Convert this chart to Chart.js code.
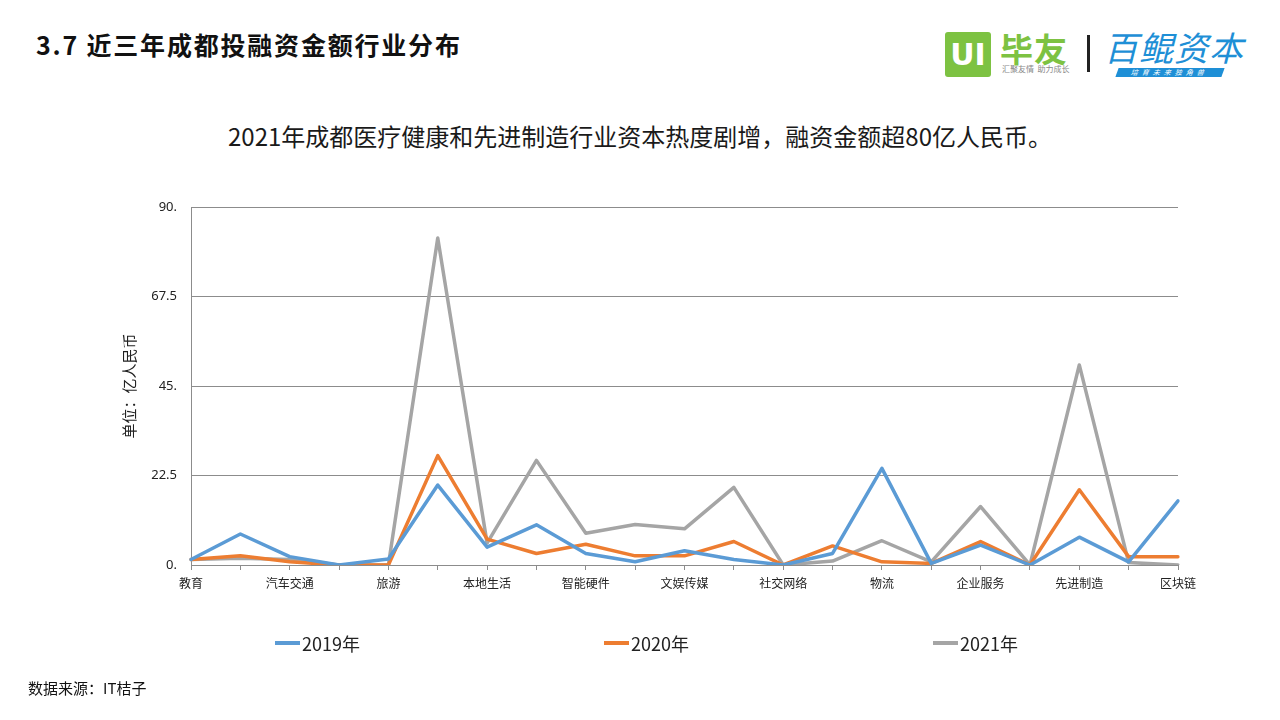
<!DOCTYPE html>
<html>
<head>
<meta charset="utf-8">
<script src="https://cdn.jsdelivr.net/npm/chart.js@4"></script>
<style>
  body { margin: 0; width: 1280px; height: 720px; background: #fff; position: relative; overflow: hidden;
         font-family: "Noto Sans CJK SC", "Noto Sans", sans-serif; }
  #wrap { position: absolute; left: 0; top: 0; width: 1280px; height: 720px; }
  .title { position: absolute; left: 36px; top: 26px; font-size: 25px; font-weight: bold; color: #111; letter-spacing: 1.8px; }
  .subtitle { position: absolute; left: 0; width: 1280px; top: 118px; text-align: center; font-size: 24px; color: #1a1a1a; }
  .source { position: absolute; left: 28px; top: 677px; font-size: 15px; color: #111; }
  .legend { position: absolute; top: 630px; height: 26px; font-size: 18px; color: #222; display: flex; align-items: center; }
  .legend i { display: inline-block; width: 25px; height: 4px; margin-right: 2px; }
  /* logos */
  .ui-box { position: absolute; left: 945px; top: 32px; width: 46px; height: 45px; background: #7dc242; border-radius: 3px;
            color: #fff; font: bold 30px "DejaVu Sans", sans-serif; text-align: center; line-height: 45px; }
  .biyou { position: absolute; left: 1000px; top: 24px; font-size: 33px; font-weight: bold; color: #7dc242; letter-spacing: 1px; }
  .biyou-sub { position: absolute; left: 1002px; top: 63px; font-size: 8px; color: #888; }
  .sep { position: absolute; left: 1087px; top: 35px; width: 3px; height: 37px; background: #222; }
  .baikun { position: absolute; left: 1104px; top: 22px; font-size: 34px; color: #1e8fd6; font-style: italic; letter-spacing: 1px; }
  .banner { position: absolute; left: 1117px; top: 68px; width: 106px; height: 9px; background: #1e8fd6; color: #fff;
            font-size: 7px; line-height: 9px; text-align: center; letter-spacing: 4px; transform: skewX(-20deg); }
</style>
</head>
<body>
<div class="title">3.7 近三年成都投融资金额行业分布</div>
<div class="ui-box">UI</div>
<div class="biyou">毕友</div>
<div class="biyou-sub">汇聚友情&nbsp;&nbsp;助力成长</div>
<div class="sep"></div>
<div class="baikun">百鲲资本</div>
<div class="banner">培育未来独角兽</div>
<div class="subtitle">2021年成都医疗健康和先进制造行业资本热度剧增，融资金额超80亿人民币。</div>
<div id="wrap"><canvas id="c"></canvas></div>
<div id="legend"></div>
<div class="source">数据来源：IT桔子</div>
<script>
// categories (only every other label is shown in the source picture)
const categories = ['教育', '', '汽车交通', '', '旅游', '', '本地生活', '', '智能硬件', '', '文娱传媒',
                    '', '社交网络', '', '物流', '', '企业服务', '', '先进制造', '', '区块链'];
const seriesNames = ['2019年', '2020年', '2021年'];
const values2019 = [1.4, 7.8, 2.1, 0, 1.5, 20.1, 4.5, 10.1, 2.9, 0.8, 3.6, 1.4, 0, 2.9, 24.3, 0.4, 5.0, 0, 7.0, 0.8, 16.1];
const values2020 = [1.4, 2.3, 0.8, 0, 0, 27.5, 6.5, 2.9, 5.2, 2.3, 2.3, 5.9, 0, 4.8, 0.8, 0.4, 5.9, 0, 18.9, 2.1, 2.1];
const values2021 = [1.4, 1.7, 1.4, 0, 0, 82.2, 5.5, 26.3, 8.0, 10.2, 9.1, 19.5, 0, 1.0, 6.1, 0.8, 14.7, 0, 50.3, 0.6, 0];
const yTicks = [0, 22.5, 45, 67.5, 90];
const colors = ['#5b9bd5', '#ed7d31', '#a5a5a5'];

const axisGray = '#8c8c8c';
const datasets = [values2019, values2020, values2021].map((vals, i) => ({
    label: seriesNames[i],
    data: vals,
    borderColor: colors[i],
    backgroundColor: colors[i],
    borderWidth: 3.5,
    pointRadius: 0,
    tension: 0,
    borderJoinStyle: 'round',
    borderCapStyle: 'round'
}));

new Chart(document.getElementById('c'), {
    type: 'line',
    data: { labels: categories, datasets },
    options: {
        responsive: true,
        maintainAspectRatio: false,
        animation: false,
        layout: { padding: { left: 120, right: 102, top: 207, bottom: 125 } },
        plugins: { legend: { display: false }, tooltip: { enabled: false } },
        scales: {
            x: {
                offset: false,
                afterFit: s => { s.height = 30; },
                grid: { drawOnChartArea: false, drawTicks: true, tickLength: 5, color: axisGray },
                border: { color: axisGray },
                ticks: { autoSkip: false, maxRotation: 0, color: '#222', padding: 6,
                         font: { family: '"Noto Sans CJK SC", sans-serif', size: 12 } }
            },
            y: {
                min: 0, max: 90,
                afterFit: s => { s.width = 71; },
                afterBuildTicks: s => { s.ticks = yTicks.map(v => ({ value: v })); },
                grid: { color: axisGray, drawTicks: false },
                border: { color: axisGray },
                title: { display: true, text: '单位：亿人民币', color: '#222', padding: 0,
                         font: { family: '"Noto Sans CJK SC", sans-serif', size: 15 } },
                ticks: { color: '#222', padding: 14,
                         font: { family: '"Noto Sans", sans-serif', size: 13 },
                         callback: v => (Number.isInteger(v) ? v + '.' : String(v)) }
            }
        }
    }
});

// legend spread wide like the source
const legendX = [275, 604, 933];
const legendEl = document.getElementById('legend');
seriesNames.forEach((name, i) => {
    const d = document.createElement('div');
    d.className = 'legend';
    d.style.left = legendX[i] + 'px';
    d.innerHTML = '<i style="background:' + colors[i] + '"></i>' + name;
    legendEl.appendChild(d);
});
</script>
</body>
</html>
